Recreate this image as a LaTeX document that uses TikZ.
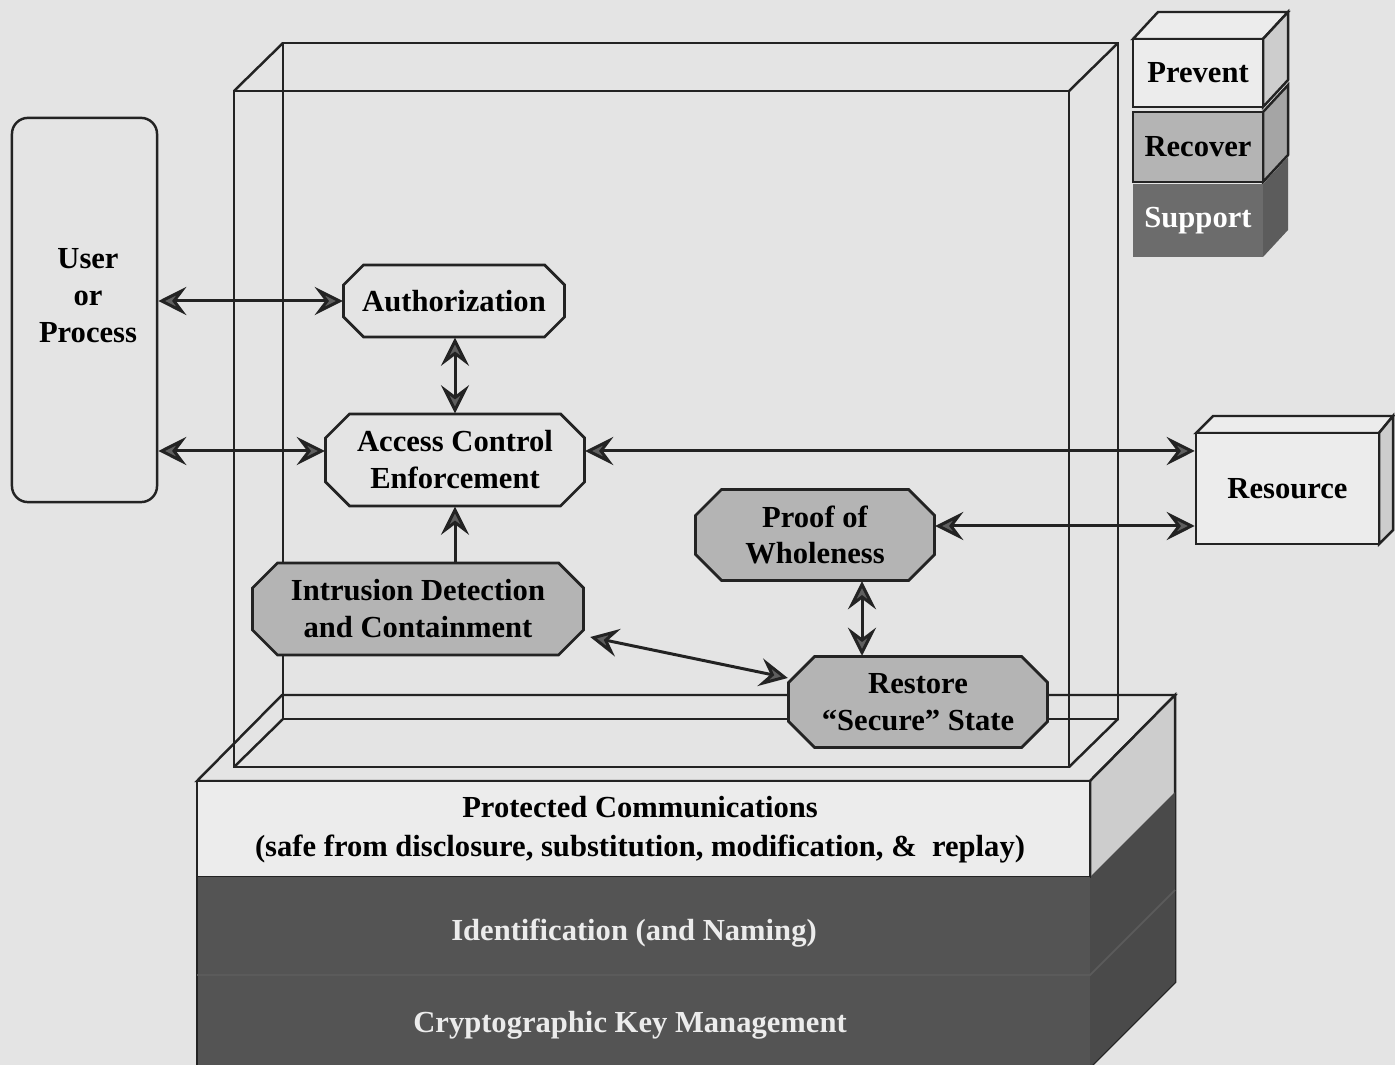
\documentclass[tikz,border=0pt]{standalone}
\usepackage{fontspec}
\setmainfont{Liberation Serif}
\usetikzlibrary{arrows.meta}

\definecolor{bggray}{RGB}{228,228,228}
\definecolor{lightface}{RGB}{236,236,236}
\definecolor{sideface}{RGB}{205,205,205}
\definecolor{nodegray}{RGB}{180,180,180}
\definecolor{recgray}{RGB}{180,180,180}
\definecolor{recside}{RGB}{165,165,165}
\definecolor{supgray}{RGB}{108,108,108}
\definecolor{supside}{RGB}{92,92,92}
\definecolor{darkband}{RGB}{84,84,84}
\definecolor{darkside}{RGB}{74,74,74}
\definecolor{linecol}{RGB}{35,35,35}
\definecolor{tipgray}{RGB}{95,95,95}

\tikzset{
  wire/.style={draw=linecol, line width=0.7pt},
  octline/.style={draw=linecol, line width=0.8pt},
  mech/.style={inner sep=0pt, align=center},
  dbl/.style={{Stealth[length=8pt, width=8pt, inset=3pt, fill=tipgray]}-{Stealth[length=8pt, width=8pt, inset=3pt, fill=tipgray]},
    draw=linecol, line width=0.85pt},
  sgl/.style={-{Stealth[length=8pt, width=8pt, inset=3pt, fill=tipgray]},
    draw=linecol, line width=0.85pt},
  legbox/.style={draw=linecol, line width=0.7pt, minimum width=1.30cm,
    inner sep=0pt},
}

% octagon box: name, x, y, width, height, chamfer, fill, text
\newcommand{\mechbox}[8]{%
  \filldraw[octline, fill=#7]
    ({#2-#4/2+#6},{#3-#5/2}) -- ({#2+#4/2-#6},{#3-#5/2}) -- ({#2+#4/2},{#3-#5/2+#6})
    -- ({#2+#4/2},{#3+#5/2-#6}) -- ({#2+#4/2-#6},{#3+#5/2}) -- ({#2-#4/2+#6},{#3+#5/2})
    -- ({#2-#4/2},{#3+#5/2-#6}) -- ({#2-#4/2},{#3-#5/2+#6}) -- cycle;
  \node[mech, minimum width={#4*0.01cm}, minimum height={#5*0.01cm}] (#1) at (#2,#3) {#8};
}

\begin{document}
\begin{tikzpicture}[x=0.01cm, y=-0.01cm,
    font=\fontsize{8.7}{10.5}\selectfont\bfseries]
  % page
  \fill[bggray] (0,0) rectangle (1395,1065);
  \useasboundingbox (0,0) rectangle (1395,1065);

  % platform under the frame
  \filldraw[wire, fill=bggray] (197,781) -- (282,695) -- (1175,695) -- (1090,781) -- cycle;
  \filldraw[wire, fill=sideface] (1090,781) -- (1175,695) -- (1175,982) -- (1090,1067) -- cycle;
  \fill[darkside] (1090,877) -- (1175,792) -- (1175,982) -- (1090,1067) -- cycle;
  \filldraw[wire, fill=lightface] (197,781) rectangle (1090,877);
  \fill[darkband] (197,877) rectangle (1090,1066);
  \draw[wire] (197,877) -- (197,1066);
  \draw[darkband!85!gray, line width=0.5pt] (197,975) -- (1090,975) -- (1175,890);

  \node[align=center, font=\fontsize{8.7}{11}\selectfont\bfseries] (prot) at (640,830)
    {Protected Communications\\(safe from disclosure, substitution, modification, \&\ \ replay)};
  \node[text=lightface] (ident) at (634,933) {Identification (and Naming)};
  \node[text=lightface] (keymgmt) at (630,1025) {Cryptographic Key Management};

  % wire frame box
  \draw[wire] (283,43) rectangle (1118,719);
  \draw[wire] (234,91) rectangle (1069,767);
  \draw[wire] (234,91) -- (283,43);
  \draw[wire] (1069,91) -- (1118,43);
  \draw[wire] (234,767) -- (283,719);
  \draw[wire] (1069,767) -- (1118,719);

  % legend
  \filldraw[wire, fill=lightface] (1133,39) -- (1158,12) -- (1288,12) -- (1263,39) -- cycle;
  \filldraw[wire, fill=sideface] (1263,39) -- (1288,12) -- (1288,80) -- (1263,107) -- cycle;
  \filldraw[wire, fill=recside] (1263,112) -- (1288,85) -- (1288,155) -- (1263,182) -- cycle;
  \fill[supside] (1263,184) -- (1288,157) -- (1288,230) -- (1263,257) -- cycle;
  \node[legbox, fill=lightface, minimum height=0.68cm] (prevent) at (1198,73) {Prevent};
  \node[legbox, fill=recgray, minimum height=0.70cm] (recover) at (1198,147) {Recover};
  \node[legbox, draw=none, fill=supgray, text=white, minimum height=0.73cm] (support) at (1198,220.5) {Support};

  % user and resource
  \node[draw=linecol, line width=0.7pt, rounded corners=0.16cm, minimum width=1.45cm,
    minimum height=3.84cm] (user) at (84.5,310) {};
  \node[align=center] (usertxt) at (88,296) {User\\or\\Process};
  \filldraw[wire, fill=lightface] (1196,433) -- (1213,416) -- (1393,416) -- (1379,433) -- cycle;
  \filldraw[wire, fill=sideface] (1379,433) -- (1393,416) -- (1393,530) -- (1379,544) -- cycle;
  \node[legbox, fill=lightface, minimum width=1.83cm, minimum height=1.11cm] (res) at (1287.5,488.5) {Resource};

  % mechanisms
  \mechbox{auth}{454}{301}{221}{72}{20}{bggray}{Authorization}
  \mechbox{ace}{455}{460}{259}{92}{24}{bggray}{Access Control\\Enforcement}
  \mechbox{idc}{418}{609}{331}{92}{25}{nodegray}{Intrusion Detection\\and Containment}
  \mechbox{proof}{815}{535}{239}{91}{26}{nodegray}{Proof of\\Wholeness}
  \mechbox{restore}{918}{702}{259}{91}{26}{nodegray}{Restore\\``Secure'' State}

  % connectors
  \draw[dbl] (user.east |- auth.west) -- (auth.west);
  \draw[dbl] (user.east |- 0,451) -- (ace.west |- 0,451);
  \draw[dbl] (ace.east |- 0,451) -- (res.west |- 0,451);
  \draw[dbl] (proof.east |- 0,526) -- (res.west |- 0,526);
  \draw[dbl] (auth.south -| 455,0) -- (ace.north -| 455,0);
  \draw[sgl] (idc.north -| 455,0) -- (ace.south -| 455,0);
  \draw[dbl] ([xshift=0.06cm, yshift=-0.28cm]idc.east) -- ([yshift=0.24cm]restore.west);
  \draw[dbl] (proof.south -| 862,0) -- (restore.north -| 862,0);
\end{tikzpicture}
\end{document}
